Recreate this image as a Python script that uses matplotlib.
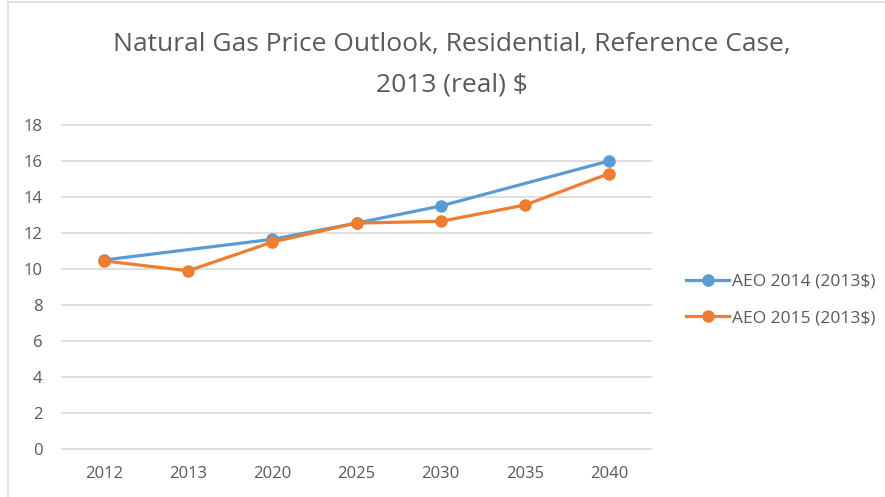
import matplotlib
matplotlib.use("Agg")
import matplotlib.pyplot as plt
import numpy as np
from matplotlib.lines import Line2D

categories = ["2012", "2013", "2020", "2025", "2030", "2035", "2040"]
aeo2014 = [10.5, None, 11.65, 12.55, 13.5, None, 16.0]
aeo2015 = [10.45, 9.9, 11.5, 12.55, 12.65, 13.55, 15.3]
yticks = [0, 2, 4, 6, 8, 10, 12, 14, 16, 18]

plt.rcParams['font.family'] = ['Open Sans', 'DejaVu Sans']
blue = "#5B9BD5"
orange = "#ED7D31"
grey = "#595959"

fig = plt.figure(figsize=(8.85, 4.97), dpi=100)
ax = fig.add_axes([62/885, 1 - 449/497, (651 - 62)/885, (449 - 125)/497])

x = np.arange(len(categories))
for vals, c, lab in [(aeo2014, blue, "AEO 2014 (2013$)"), (aeo2015, orange, "AEO 2015 (2013$)")]:
    xs = [xi for xi, v in zip(x, vals) if v is not None]
    ys = [v for v in vals if v is not None]
    ax.plot(xs, ys, color=c, lw=2.3, marker="o", ms=8, label=lab,
            solid_capstyle="round", clip_on=False, zorder=3)

ax.set_xlim(-0.5, len(categories) - 0.5)
ax.set_ylim(0, 18)
ax.set_yticks(yticks)
ax.set_xticks(x)
ax.set_xticklabels(categories)
ax.tick_params(axis="both", length=0, labelsize=12, colors=grey)
ax.tick_params(axis="x", pad=12)
ax.tick_params(axis="y", pad=14)
ax.grid(axis="y", color="#D9D9D9", lw=1.2)
ax.set_axisbelow(True)
for s in ax.spines.values():
    s.set_visible(False)
for gl in ax.get_ygridlines():
    gl.set_clip_on(False)

fig.text(0.511, 1 - 45/497, "Natural Gas Price Outlook, Residential, Reference Case,",
         ha="center", va="center", fontsize=19, color=grey)
fig.text(0.511, 1 - 85/497, "2013 (real) $", ha="center", va="center", fontsize=19, color=grey)

handles = [Line2D([0], [0], color=blue, lw=2.3, marker="o", ms=8),
           Line2D([0], [0], color=orange, lw=2.3, marker="o", ms=8)]
leg = fig.legend(handles, ["AEO 2014 (2013$)", "AEO 2015 (2013$)"],
                 loc="center left", bbox_to_anchor=(686/885, 1 - 300/497),
                 frameon=False, fontsize=12.5, labelcolor=grey, handlelength=2.5,
                 handletextpad=0.15, labelspacing=1.2, borderaxespad=0, borderpad=0)

# border lines
fig.add_artist(Line2D([8/885, 8/885], [0, 1 - 2/497], color="#D9D9D9", lw=1.2))
fig.add_artist(Line2D([8/885, 1], [1 - 2/497, 1 - 2/497], color="#D9D9D9", lw=1.2))

fig.savefig("out.png", dpi=100)
